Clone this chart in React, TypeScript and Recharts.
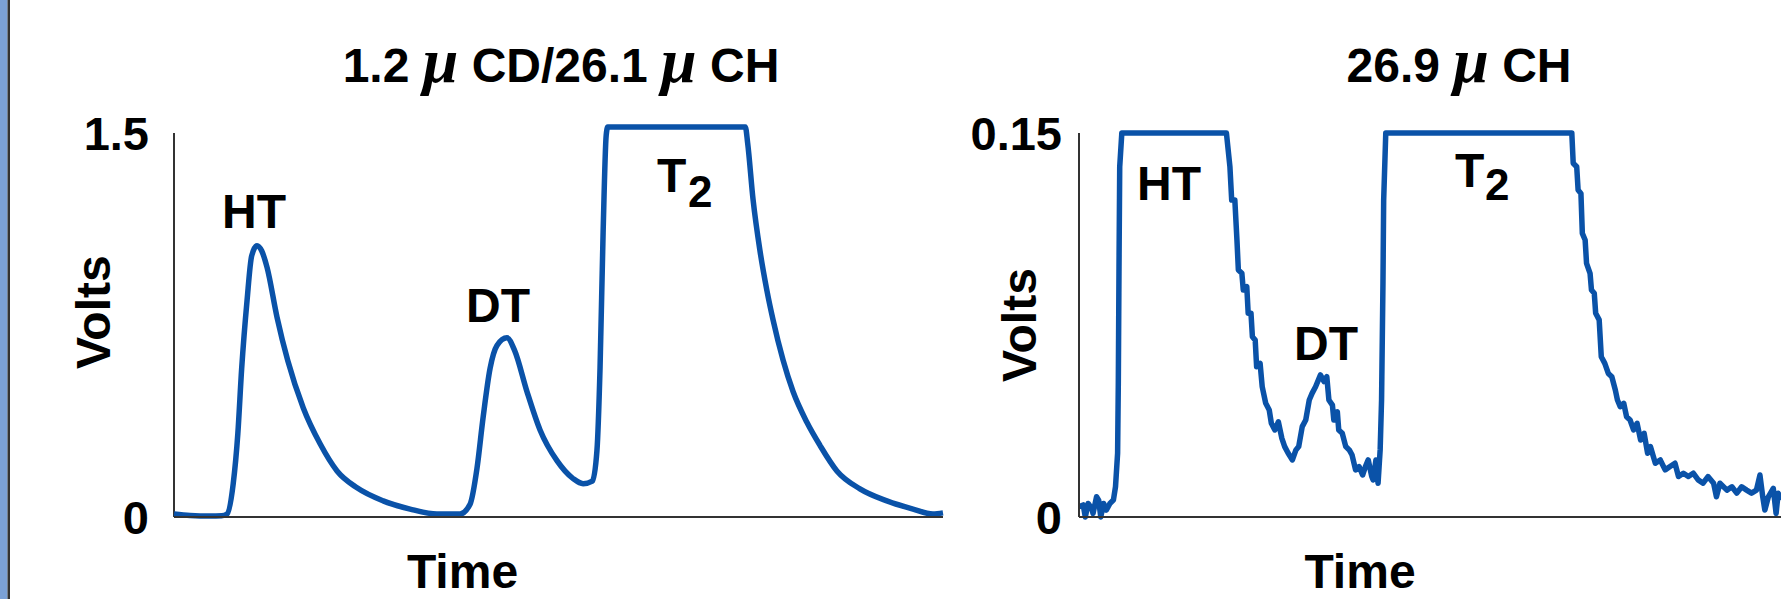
import React from 'react'
import { LineChart, Line, XAxis, YAxis, ReferenceLine } from 'recharts'

const leftTime = [
  0, 2.1, 4.7, 6.2, 6.9, 7.7, 8.3, 8.8, 9.5, 10.1, 10.8, 11.4, 12.1, 13.4, 14.8,
  16.8, 19.0, 21.2, 23.8, 27.2, 30.7, 34.2, 37.2, 38.5, 39.4, 40.2, 41.1, 42.0,
  43.3, 44.3, 45.9, 47.6, 49.8, 51.9, 53.2, 54.4, 55.0, 55.4, 55.8, 56.2, 56.4,
  74.3, 74.6, 75.3, 76.2, 77.1, 77.9, 79.2, 80.5, 82.3, 84.0, 86.2, 89.2, 92.7,
  96.1, 98.7, 100,
]
const leftVolts = [
  0.012, 0.006, 0.004, 0.005, 0.012, 0.13, 0.325, 0.58, 0.846, 1.02, 1.06, 1.04,
  0.975, 0.78, 0.61, 0.427, 0.286, 0.18, 0.114, 0.063, 0.031, 0.012, 0.012, 0.05,
  0.19, 0.39, 0.58, 0.67, 0.7, 0.65, 0.49, 0.34, 0.22, 0.15, 0.13, 0.14, 0.26,
  0.58, 1.11, 1.49, 1.523, 1.523, 1.46, 1.24, 1.04, 0.885, 0.77, 0.613, 0.49,
  0.37, 0.28, 0.18, 0.11, 0.063, 0.031, 0.012, 0.016,
]

const rightTime = [
  0, 0.6, 0.9, 1.3, 1.8, 2.0, 2.5, 2.8, 3.1, 3.5, 3.9, 4.4, 4.9, 5.2, 5.5, 5.6,
  5.7, 5.8, 6.1, 21.0, 21.5, 21.75, 22.2, 22.5, 22.7, 23.2, 23.4, 23.9, 24.1,
  24.5, 24.7, 25.1, 25.3, 25.8, 26.1, 26.6, 27.1, 27.4, 27.9, 28.4, 28.9, 29.3,
  29.8, 30.4, 30.9, 31.3, 31.8, 32.3, 32.8, 33.2, 33.7, 34.4, 34.9, 35.3, 35.6,
  36.1, 36.3, 36.8, 37.0, 37.5, 38.0, 38.5, 38.9, 39.4, 39.9, 40.4, 40.8, 41.2,
  41.7, 41.9, 42.3, 42.6, 42.9, 43.1, 43.3, 43.4, 43.7, 70.2, 70.4, 70.9, 71.1,
  71.5, 71.7, 72.1, 72.3, 72.8, 73.0, 73.4, 73.6, 74.1, 74.4, 74.9, 75.4, 75.9,
  76.4, 76.7, 77.1, 77.6, 78.0, 78.5, 79.0, 79.5, 80.0, 80.5, 81.0, 81.4, 82.1,
  82.8, 83.5, 84.2, 84.9, 85.4, 86.1, 86.8, 87.5, 88.2, 88.9, 89.6, 90.4, 90.8,
  91.3, 92.3, 93.0, 93.7, 94.4, 95.1, 95.8, 96.5, 97.0, 97.4, 97.7, 98.2, 98.9,
  99.3, 99.6, 100,
]
const rightVolts = [
  0.004, 0.0047, 0, 0.0053, 0.0034, 0.0014, 0.0079, 0.0066, 0, 0.0053, 0.0027,
  0.0053, 0.0066, 0.0118, 0.0249, 0.0522, 0.0978, 0.1368, 0.15, 0.15, 0.1368,
  0.1238, 0.1238, 0.1082, 0.0965, 0.0952, 0.0887, 0.09, 0.0796, 0.0796, 0.0704,
  0.0691, 0.0587, 0.06, 0.0509, 0.0444, 0.0418, 0.0366, 0.034, 0.0372, 0.0307,
  0.0275, 0.0249, 0.0223, 0.0262, 0.0275, 0.0353, 0.0379, 0.0457, 0.0483, 0.0509,
  0.0555, 0.0529, 0.0548, 0.0457, 0.0437, 0.0379, 0.0411, 0.034, 0.0327, 0.0275,
  0.0262, 0.0242, 0.0184, 0.0197, 0.0164, 0.0197, 0.0223, 0.0158, 0.0145, 0.0223,
  0.0132, 0.0262, 0.0457, 0.0914, 0.1238, 0.15, 0.15, 0.1382, 0.1368, 0.1277,
  0.1264, 0.1108, 0.1082, 0.0991, 0.0952, 0.0887, 0.0874, 0.0796, 0.077, 0.0626,
  0.06, 0.0561, 0.0548, 0.0496, 0.0457, 0.0431, 0.0444, 0.0392, 0.0379, 0.034,
  0.0366, 0.0301, 0.0327, 0.0249, 0.0275, 0.021, 0.0223, 0.0184, 0.0197, 0.021,
  0.0158, 0.0171, 0.0158, 0.0171, 0.0145, 0.0132, 0.0158, 0.0132, 0.0079, 0.0132,
  0.0105, 0.0118, 0.0093, 0.0118, 0.0105, 0.0093, 0.0105, 0.0164, 0.0079, 0.0027,
  0.0079, 0.0112, 0.0014, 0.0093, 0.0066,
]

const leftTicks = [0, 1.5]
const rightTicks = [0, 0.15]

const BLUE = '#0a52a8'
const AXIS = '#333333'
const FONT = '"Liberation Sans", Arial, Helvetica, sans-serif'
const MU_FONT = '"Liberation Serif", "DejaVu Serif", serif'

const tickStyle = { fontSize: 47, fontWeight: 700, fill: '#000', fontFamily: FONT }
const labelStyle = { fontSize: 48, fontWeight: 700, fill: '#000', fontFamily: FONT }

function toRows(time: number[], volts: number[]) {
  return time.map((t, i) => ({ t, v: volts[i] }))
}

const leftData = toRows(leftTime, leftVolts)
const rightData = toRows(rightTime, rightVolts)

function Mu() {
  return (
    <tspan fontFamily={MU_FONT} fontStyle="italic" fontWeight={700} fontSize={64}>
      μ
    </tspan>
  )
}

export default function App() {
  return (
    <div style={{ position: 'absolute', left: 0, top: 0, width: 1781, height: 599, background: '#fff', overflow: 'hidden' }}>
      <div style={{ position: 'absolute', left: 0, top: 0 }}>
        <LineChart width={960} height={599} data={leftData} margin={{ top: 107.4, right: 17, bottom: 11, left: 46 }}>
          <XAxis
            type="number"
            dataKey="t"
            domain={[0, 100]}
            tick={false}
            tickLine={false}
            height={71}
            axisLine={{ stroke: AXIS, strokeWidth: 2 }}
            label={{ value: 'Time', position: 'insideBottom', offset: 0, dx: -96, ...labelStyle }}
          />
          <YAxis
            type="number"
            domain={[0, 1.6]}
            ticks={leftTicks}
            interval={0}
            width={128}
            axisLine={false}
            tickLine={false}
            tickSize={0}
            tickMargin={25}
            tick={tickStyle}
            label={{ value: 'Volts', angle: -90, position: 'center', dx: -17, ...labelStyle }}
          />
          {/* y axis only runs up to 1.5, the T2 plateau sits a bit above it */}
          <ReferenceLine segment={[{ x: 0, y: 0 }, { x: 0, y: 1.5 }]} stroke={AXIS} strokeWidth={2} />
          <Line
            type="monotone"
            dataKey="v"
            stroke={BLUE}
            strokeWidth={5.5}
            strokeLinejoin="round"
            dot={false}
            isAnimationActive={false}
          />
        </LineChart>
      </div>

      <div style={{ position: 'absolute', left: 960, top: 0 }}>
        <LineChart width={821} height={599} data={rightData} margin={{ top: 133, right: 0, bottom: 11, left: 9 }}>
          <XAxis
            type="number"
            dataKey="t"
            domain={[0, 100]}
            tick={false}
            tickLine={false}
            height={71}
            axisLine={{ stroke: AXIS, strokeWidth: 2 }}
            label={{ value: 'Time', position: 'insideBottom', offset: 0, dx: -70, ...labelStyle }}
          />
          <YAxis
            type="number"
            domain={[0, 0.15]}
            ticks={rightTicks}
            interval={0}
            width={110}
            axisLine={{ stroke: AXIS, strokeWidth: 2 }}
            tickLine={false}
            tickSize={0}
            tickMargin={17}
            tick={tickStyle}
            label={{ value: 'Volts', angle: -90, position: 'center', dx: -5, ...labelStyle }}
          />
          <Line
            type="linear"
            dataKey="v"
            stroke={BLUE}
            strokeWidth={5.5}
            strokeLinejoin="round"
            dot={false}
            isAnimationActive={false}
          />
        </LineChart>
      </div>

      {/* slide edge, titles and peak names */}
      <svg width={1781} height={599} style={{ position: 'absolute', left: 0, top: 0, pointerEvents: 'none' }}>
        <rect x={0} y={0} width={7.5} height={599} fill="#7ba1d6" />
        <rect x={7.5} y={0} width={2.5} height={599} fill="#333" />

        <g fontFamily={FONT} fontWeight={700} fontSize={48} fill="#000">
          <text x={561} y={82} textAnchor="middle">
            {'1.2 '}<Mu />{' CD/26.1 '}<Mu />{' CH'}
          </text>
          <text x={1459} y={82} textAnchor="middle">
            {'26.9 '}<Mu />{' CH'}
          </text>
        </g>

        <g fontFamily={FONT} fontWeight={700} fontSize={48} fill="#000">
          <text x={254} y={228} textAnchor="middle">HT</text>
          <text x={498} y={322} textAnchor="middle">DT</text>
          <text x={657} y={192}>T</text>
          <text x={688} y={207} fontSize={44}>2</text>

          <text x={1169} y={200} textAnchor="middle">HT</text>
          <text x={1326} y={360} textAnchor="middle">DT</text>
          <text x={1455} y={187}>T</text>
          <text x={1485} y={200} fontSize={44}>2</text>
        </g>
      </svg>
    </div>
  )
}
